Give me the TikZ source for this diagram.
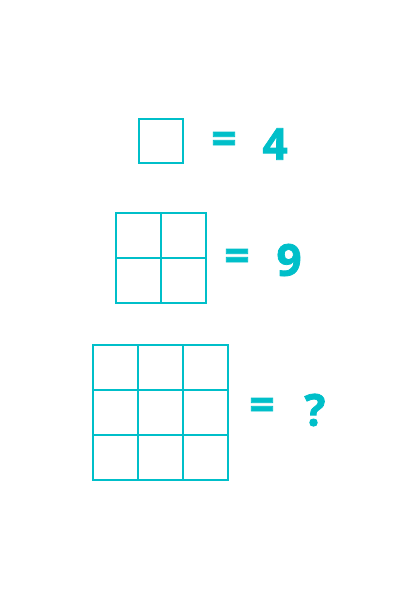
\documentclass[tikz,border=0pt]{standalone}
\usepackage{fontspec}
\setmainfont{Open Sans}
\newfontfamily\heavy[BoldFeatures={FakeBold=1.8}]{Open Sans}
\definecolor{aqua}{HTML}{00BFC9}
\usetikzlibrary{positioning}

\begin{document}
\begin{tikzpicture}[x=1pt,y=-1pt,
  cell/.style={draw=aqua,line width=2pt},
  sym/.style={text=aqua,inner sep=0pt,
              font=\fontsize{44}{44}\heavy\bfseries}]
  \useasboundingbox (0,0) rectangle (420,594);
  % one square
  \draw[cell] (139,119) rectangle ++(44,44);
  \node[sym] (eq1) at (224,143){=};
  \node[sym] (v1)  at (275,144){4};
  % two by two
  \foreach \i in {0,1}
    \foreach \j in {0,1}
      \draw[cell] (116+45*\i,213+45*\j) rectangle ++(45,45);
  \node[sym] (eq2) at (237,260){=};
  \node[sym] (v2)  at (289,260){9};
  % three by three
  \foreach \i in {0,1,2}
    \foreach \j in {0,1,2}
      \draw[cell] (93+45*\i,345+45*\j) rectangle ++(45,45);
  \node[sym] (eq3) at (262,409){=};
  \node[sym] (v3)  at (315,410){?};
\end{tikzpicture}
\end{document}
